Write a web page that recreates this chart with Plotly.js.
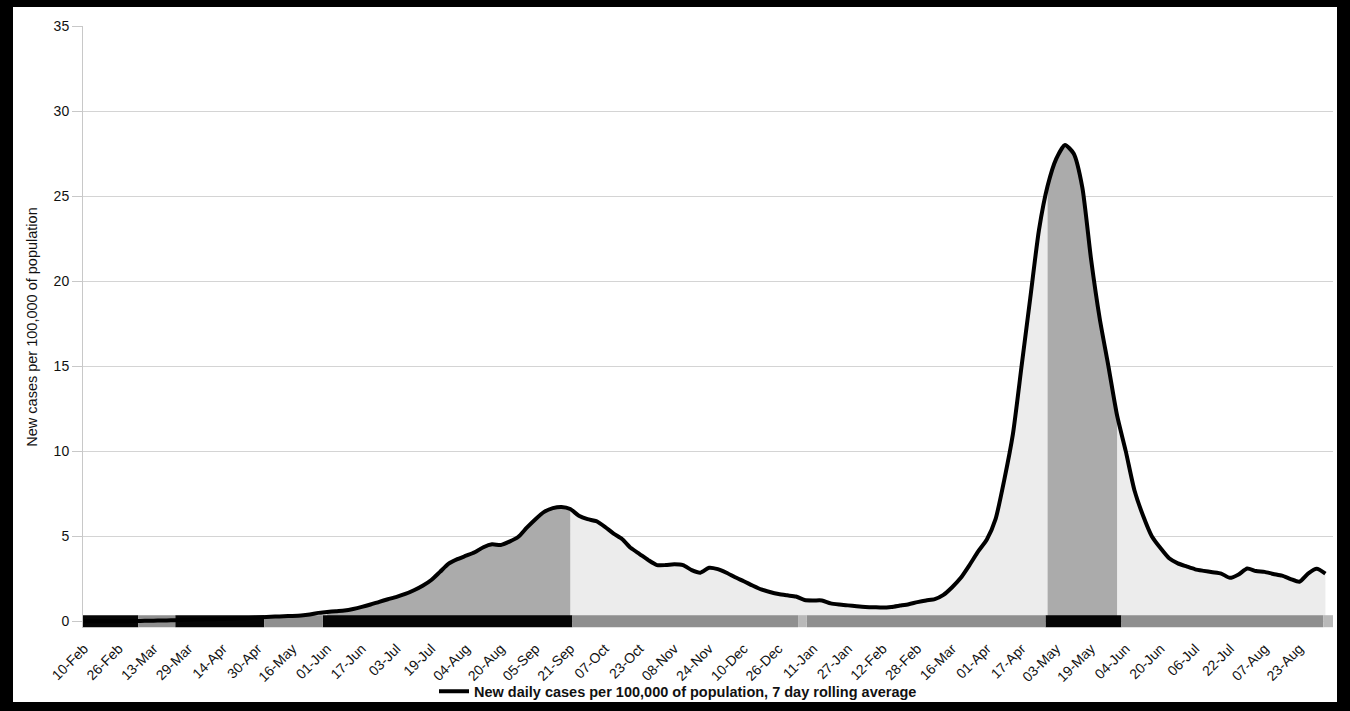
<!DOCTYPE html>
<html>
<head>
<meta charset="utf-8">
<script src="https://cdn.plot.ly/plotly-3.0.1.min.js"></script>
<style>
  html, body { margin: 0; padding: 0; background: #000; width: 1350px; height: 711px; overflow: hidden; }
  #chart { position: absolute; left: 13px; top: 7px; width: 1324px; height: 695px; background: #fff; }
</style>
</head>
<body>
<div id="chart"></div>
<script>
// ---- Data ----
const firstDate = '2020-02-10';   // first sample / first tick label
const sampleStepDays = 4;         // one value every 4 days
const tickStepDays = 16;          // a tick label every 16 days

// New daily cases per 100,000 of population, 7 day rolling average
const cases = [
  0, 0, 0, 0, 0,
  0, 0.01, 0.02, 0.03, 0.04, 0.05,
  0.07, 0.09, 0.1, 0.11, 0.12, 0.13, 0.15, 0.17, 0.19, 0.22,
  0.25, 0.27, 0.29, 0.31, 0.34, 0.4, 0.49, 0.54, 0.59, 0.63,
  0.72, 0.84, 0.98, 1.14, 1.29, 1.43, 1.6, 1.82, 2.08, 2.42,
  2.9, 3.38, 3.65, 3.85, 4.05, 4.35, 4.52, 4.48, 4.68, 4.95,
  5.5, 6.0, 6.43, 6.65, 6.72, 6.6, 6.2, 6.0, 5.88, 5.55,
  5.15, 4.82, 4.3, 3.95, 3.59, 3.3, 3.3, 3.35, 3.3, 3.0,
  2.85, 3.14, 3.06, 2.85, 2.58, 2.35, 2.1, 1.87, 1.72, 1.6,
  1.52, 1.45, 1.25, 1.22, 1.22, 1.05, 0.98, 0.93, 0.88, 0.84,
  0.82, 0.8, 0.84, 0.92, 1.0, 1.12, 1.22, 1.3, 1.55, 2.0,
  2.55, 3.3, 4.1, 4.8, 6.0, 8.3, 11.0, 15.0, 19.0, 23.0,
  25.6, 27.2, 28.0, 27.5, 25.5, 21.3, 17.8, 15.0, 12.1, 10.0,
  7.7, 6.2, 5.0, 4.3, 3.7, 3.4, 3.22, 3.05, 2.96, 2.88,
  2.8, 2.55, 2.75, 3.1, 2.95, 2.9, 2.78, 2.68, 2.48, 2.32,
  2.8, 3.08, 2.8
];

// Restriction band along the bottom: period starts and levels
const bandStarts = ['2020-02-09', '2020-03-06', '2020-03-23', '2020-05-03', '2020-05-30',
                    '2020-09-22', '2021-01-04', '2021-01-08', '2021-04-28', '2021-06-02',
                    '2021-09-03'];
const bandLevels = ['high', 'mid', 'high', 'mid', 'high',
                    'mid', 'low', 'mid', 'high', 'mid',
                    'low'];
const bandEnd = '2021-09-07 12:00';

const yTicks = [0, 5, 10, 15, 20, 25, 30, 35];
const seriesName = 'New daily cases per 100,000 of population, 7 day rolling average';
const yTitle = 'New cases per 100,000 of population';

// ---- Build traces ----
const DAY = 86400000;
const t0 = Date.parse(firstDate + 'T00:00:00Z');
function iso(ms) { return new Date(ms).toISOString().slice(0, 19).replace('T', ' '); }
function parse(s) { return Date.parse(s.length > 10 ? s.replace(' ', 'T') + ':00Z' : s + 'T00:00:00Z'); }
const sampleMs = cases.map((_, i) => t0 + i * sampleStepDays * DAY);
const dates = sampleMs.map(iso);

const bandStartMs = bandStarts.map(parse);
const bandEndMs = parse(bandEnd);
const bandColor = { high: '#060606', mid: '#8f8f8f', low: '#b9b9b9' };

function levelAt(ms) {
  let lvl = bandLevels[0];
  for (let i = 0; i < bandStartMs.length; i++) if (ms >= bandStartMs[i]) lvl = bandLevels[i];
  return lvl;
}

const traces = [];
// light area under the whole curve
traces.push({
  type: 'scatter', mode: 'lines', x: dates, y: cases, fill: 'tozeroy',
  fillcolor: '#ececec', line: { width: 0, color: 'rgba(0,0,0,0)', shape: 'spline', smoothing: 0.6 },
  showlegend: false, hoverinfo: 'skip'
});
// darker area during the 'high' restriction periods (contiguous runs of samples)
let run = null;
const runs = [];
sampleMs.forEach((ms, i) => {
  if (levelAt(ms) === 'high') { if (!run) { run = []; runs.push(run); } run.push(i); }
  else run = null;
});
runs.forEach(r => {
  traces.push({
    type: 'scatter', mode: 'lines', x: r.map(i => dates[i]), y: r.map(i => cases[i]), fill: 'tozeroy',
    fillcolor: '#ababab', line: { width: 0, color: 'rgba(0,0,0,0)', shape: 'spline', smoothing: 0.6 },
    showlegend: false, hoverinfo: 'skip'
  });
});
// the band along the bottom, one trace per level
['high', 'mid', 'low'].forEach(lvl => {
  const xs = [], ys = [];
  bandLevels.forEach((l, i) => {
    if (l !== lvl) return;
    const end = i + 1 < bandStartMs.length ? bandStartMs[i + 1] : bandEndMs;
    xs.push(iso(bandStartMs[i]), iso(end), null);
    ys.push(0, 0, null);
  });
  traces.push({
    type: 'scatter', mode: 'lines', x: xs, y: ys, connectgaps: false,
    line: { color: bandColor[lvl], width: 12 }, showlegend: false, hoverinfo: 'skip'
  });
});
// the rolling-average line
traces.push({
  type: 'scatter', mode: 'lines', x: dates, y: cases, name: seriesName,
  line: { color: '#000', width: 4, shape: 'spline', smoothing: 0.6 },
  hoverinfo: 'skip'
});

const layout = {
  width: 1324, height: 695,
  margin: { l: 70, r: 4, t: 19, b: 74, autoexpand: false },
  paper_bgcolor: '#fff', plot_bgcolor: '#fff',
  font: { family: 'Liberation Sans, Arial, sans-serif', color: '#111', size: 14 },
  showlegend: true,
  legend: {
    orientation: 'h', x: 0.476, xanchor: 'center', y: -0.105, yanchor: 'middle',
    font: { size: 14.5, color: '#111', weight: 'bold' }, bgcolor: 'rgba(0,0,0,0)'
  },
  xaxis: {
    type: 'date',
    range: ['2020-02-09 12:00', '2021-09-07 12:00'],
    tick0: firstDate, dtick: tickStepDays * DAY, tickformat: '%d-%b',
    tickangle: -45, ticks: 'outside', ticklen: 6, tickcolor: 'rgba(0,0,0,0)',
    showgrid: false, showline: false, zeroline: false,
    tickfont: { size: 14, color: '#111' }, fixedrange: true, automargin: false
  },
  yaxis: {
    range: [-0.4, 35], tickvals: yTicks, ticktext: yTicks.map(String),
    showgrid: true, gridcolor: '#d4d4d4', gridwidth: 1, zeroline: false,
    showline: true, linecolor: '#c8c8c8', linewidth: 1,
    ticks: 'outside', ticklen: 10, tickcolor: '#c8c8c8',
    tickfont: { size: 14, color: '#111' },
    title: { text: yTitle, font: { size: 14.5, color: '#111' }, standoff: 12 },
    automargin: false, fixedrange: true
  },
  hovermode: false
};

Plotly.newPlot('chart', traces, layout, { displayModeBar: false, staticPlot: true });
</script>
</body>
</html>
